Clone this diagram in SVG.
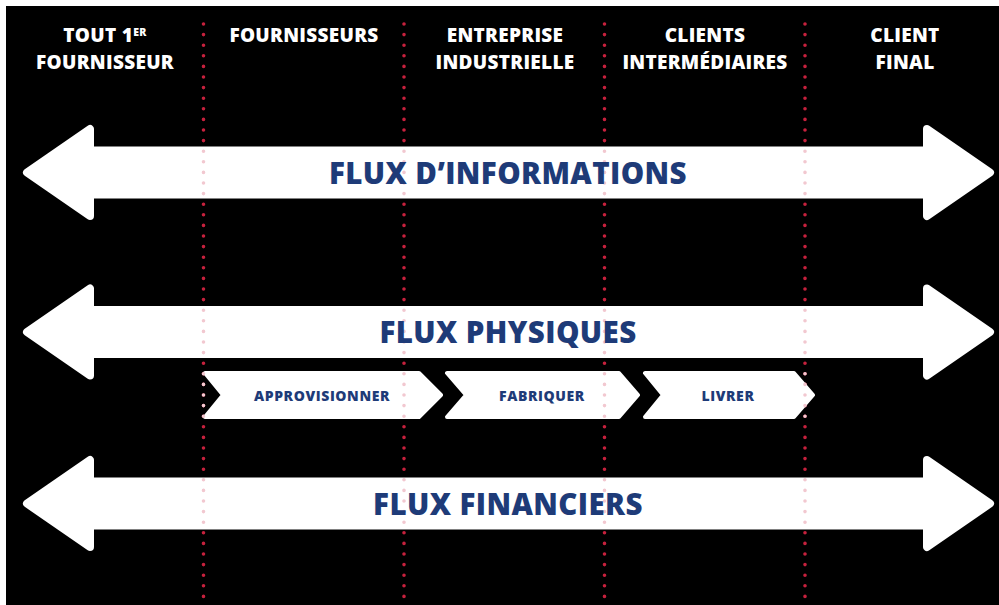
<svg xmlns="http://www.w3.org/2000/svg" width="999" height="605" viewBox="0 0 999 605">
<style>
.hdr{font-family:"Open Sans","Liberation Sans",sans-serif;font-weight:800;font-size:19px;letter-spacing:0.3px;fill:#ffffff;text-anchor:middle}
.sup{font-size:10.5px}
.big{font-family:"Open Sans","Liberation Sans",sans-serif;font-weight:800;font-size:29.5px;letter-spacing:0.4px;fill:#1e3b78;text-anchor:middle}
.step{font-family:"Open Sans","Liberation Sans",sans-serif;font-weight:800;font-size:14px;letter-spacing:0.6px;fill:#1e3b78;text-anchor:middle}
.arrow{fill:#ffffff;stroke:#ffffff;stroke-width:8;stroke-linejoin:round}
.chev{fill:#ffffff;stroke:#ffffff;stroke-width:4;stroke-linejoin:round}
.dots{stroke-width:3.6;stroke-linecap:round;stroke-dasharray:0 10.6;fill:none}
</style>
<defs>
<path id="dblarrow" class="arrow" d="M27,0 L90,-43.5 L90,-22 L927,-22 L927,-43.5 L990,0 L927,43.5 L927,22 L90,22 L90,43.5 Z"/>
<clipPath id="inWhite">
<rect x="0" y="147" width="999" height="52"/>
<rect x="0" y="306" width="999" height="52"/>
<rect x="0" y="477.5" width="999" height="52"/>
<rect x="0" y="371" width="999" height="48"/>
</clipPath>
<g id="dotlines">
<line x1="203.5" y1="24" x2="203.5" y2="600"/>
<line x1="404" y1="24" x2="404" y2="600"/>
<line x1="604.5" y1="24" x2="604.5" y2="600"/>
<line x1="805" y1="24" x2="805" y2="600"/>
</g>
</defs>
<rect x="0" y="0" width="999" height="605" fill="#ffffff"/>
<rect x="6" y="6" width="993" height="599" fill="#000000"/>

<g id="separators-red" class="dots" stroke="#c6213d">
<use href="#dotlines"/>
</g>

<g id="connectors">
<g id="flux-informations">
<use href="#dblarrow" transform="translate(0,172.5)"/>
</g>
<g id="flux-physiques">
<use href="#dblarrow" transform="translate(0,332)"/>
</g>
<g id="flux-financiers">
<use href="#dblarrow" transform="translate(0,503.5)"/>
</g>
</g>

<g id="approvisionner">
<polygon class="chev" points="205,373 419,373 441,395 419,417 205,417 223,395"/>
</g>
<g id="fabriquer">
<polygon class="chev" points="447,373 619,373 638,395 619,417 447,417 466,395"/>
</g>
<g id="livrer">
<polygon class="chev" points="645,373 794,373 813,395 794,417 645,417 663,395"/>
</g>

<g id="separators-pink" class="dots" stroke="#f2c8d0" clip-path="url(#inWhite)">
<use href="#dotlines"/>
</g>

<g id="labels">
<text class="big" x="508" y="183.5">FLUX D’INFORMATIONS</text>
<text class="big" x="508" y="343">FLUX PHYSIQUES</text>
<text class="big" x="508" y="514.5">FLUX FINANCIERS</text>
<text class="step" x="322" y="400.5">APPROVISIONNER</text>
<text class="step" x="542" y="400.5">FABRIQUER</text>
<text class="step" x="728" y="400.5">LIVRER</text>
</g>

<g id="col-tout-premier">
<text class="hdr" x="105" y="42">TOUT 1<tspan class="sup" dy="-6">ER</tspan></text>
<text class="hdr" x="105" y="69">FOURNISSEUR</text>
</g>
<g id="col-fournisseurs">
<text class="hdr" x="304" y="42">FOURNISSEURS</text>
</g>
<g id="col-entreprise">
<text class="hdr" x="505" y="42">ENTREPRISE</text>
<text class="hdr" x="505" y="69">INDUSTRIELLE</text>
</g>
<g id="col-clients-intermediaires">
<text class="hdr" x="705" y="42">CLIENTS</text>
<text class="hdr" x="705" y="69">INTERMÉDIAIRES</text>
</g>
<g id="col-client-final">
<text class="hdr" x="905" y="42">CLIENT</text>
<text class="hdr" x="905" y="69">FINAL</text>
</g>
</svg>
